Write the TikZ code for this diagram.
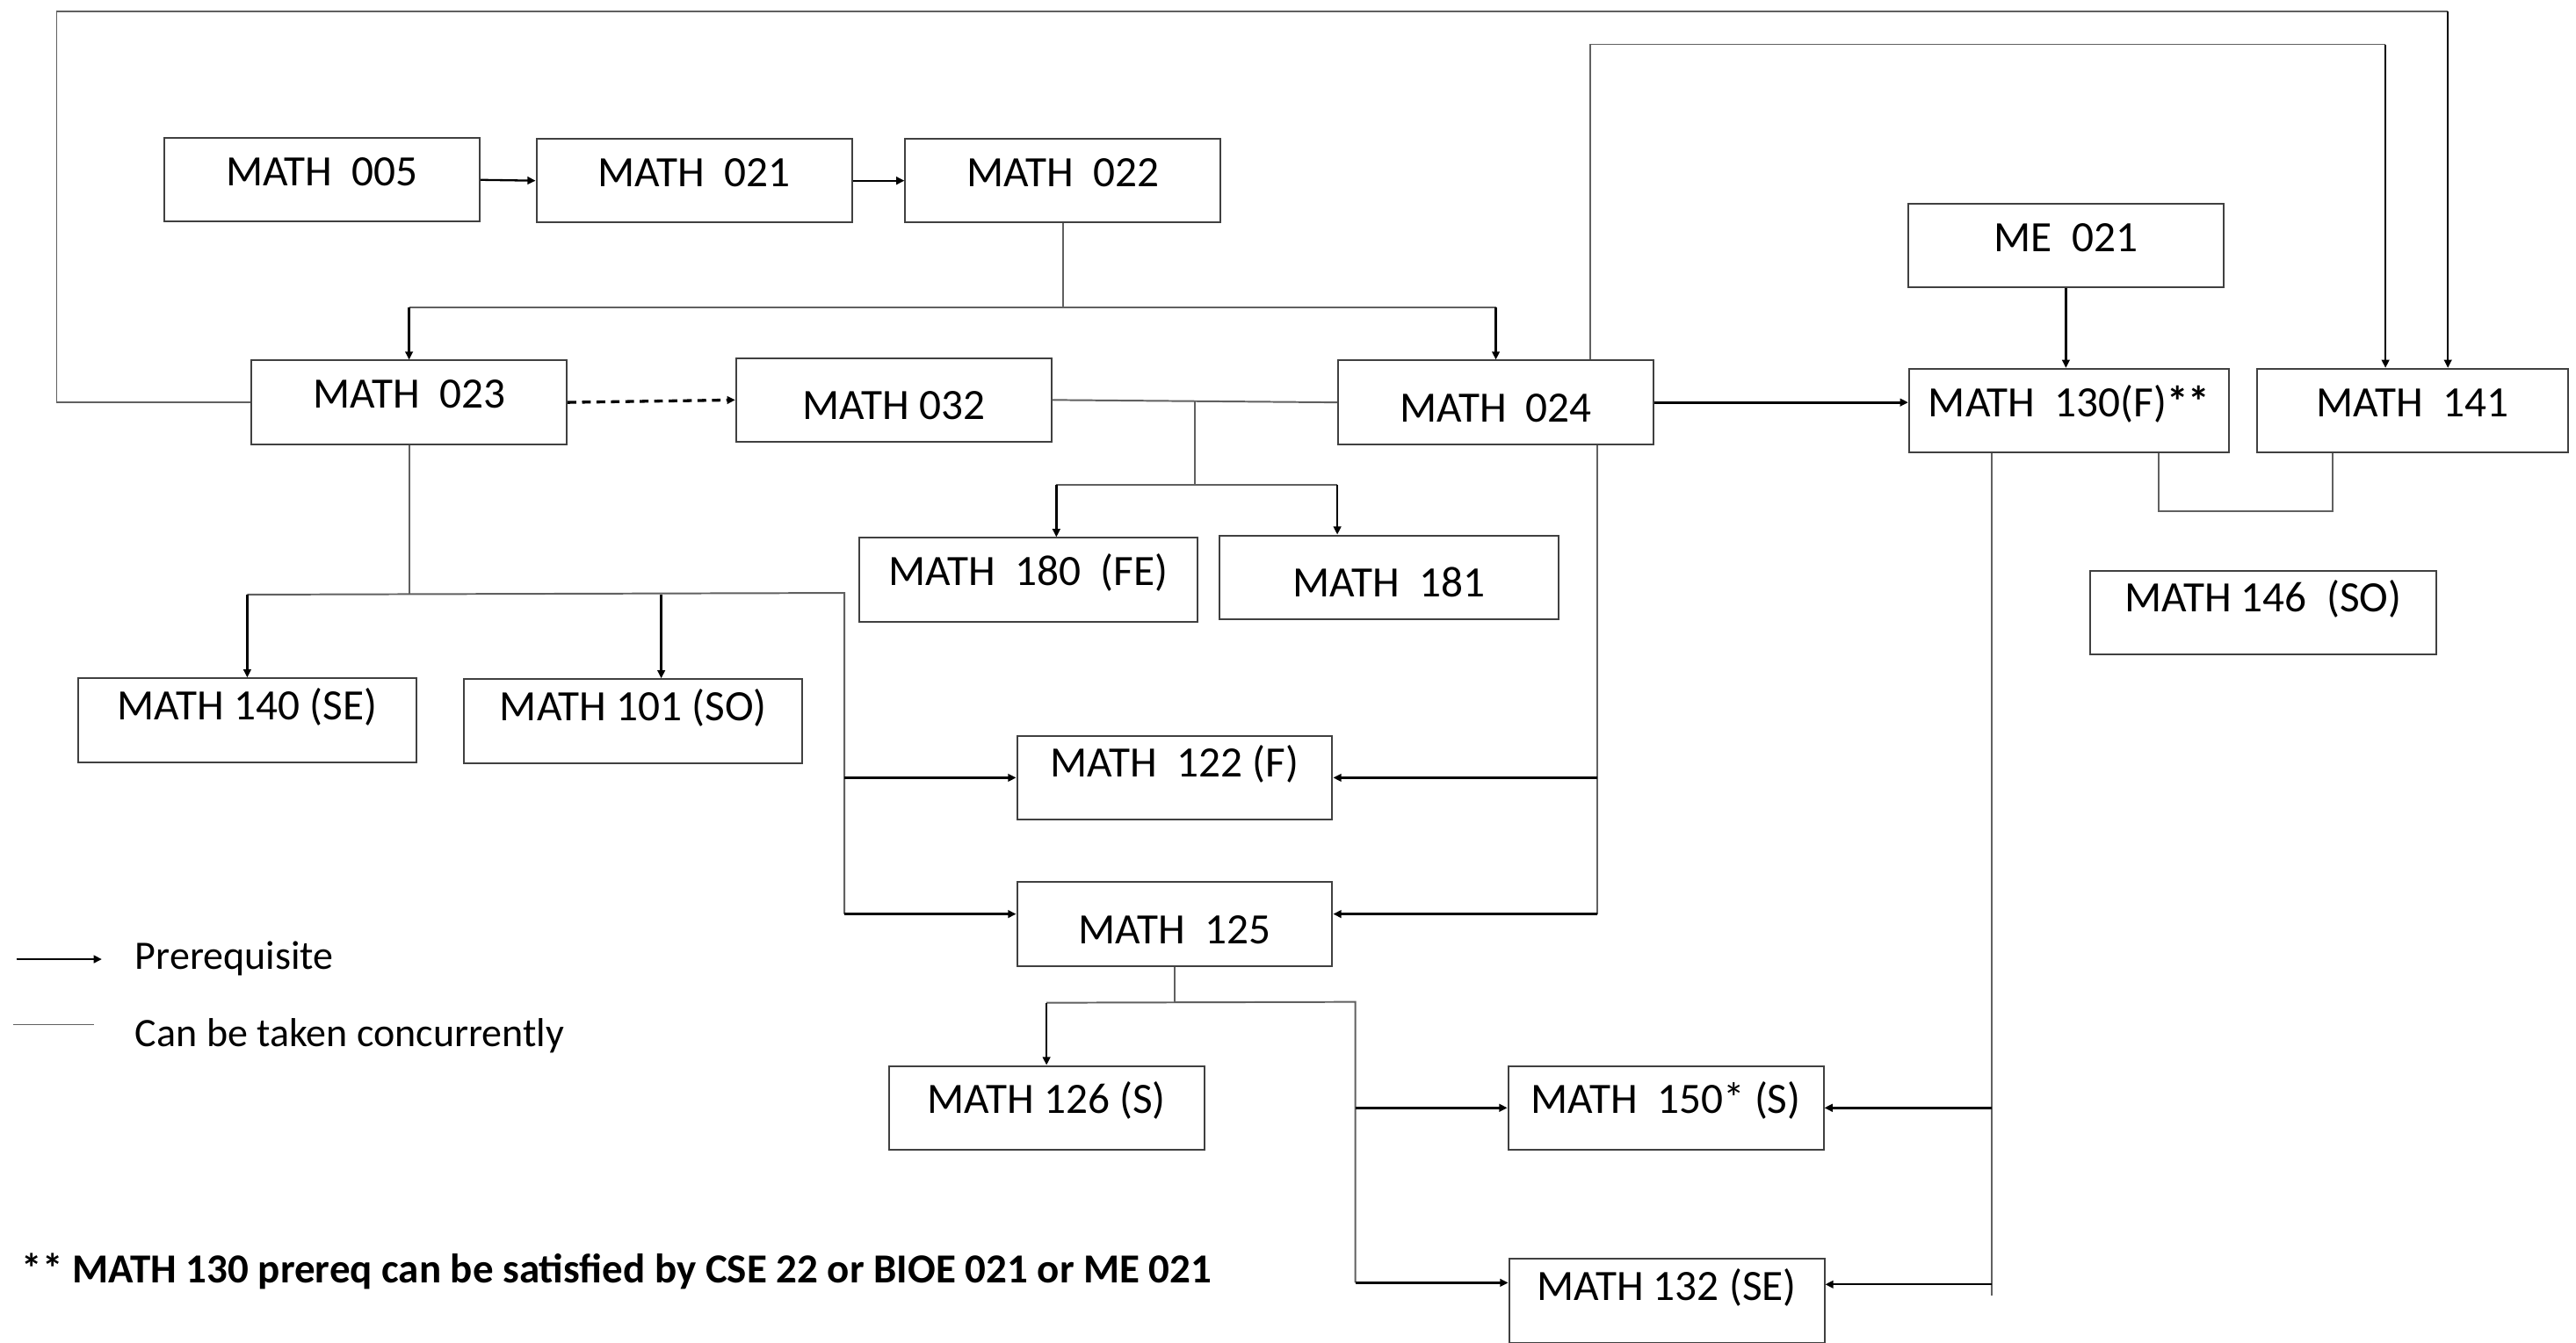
\documentclass[tikz,border=0pt]{standalone}
\usepackage{fontspec}
\setmainfont{Carlito}
\usetikzlibrary{arrows.meta, calc}
\definecolor{boxgray}{RGB}{64, 64, 64}
\definecolor{linegray}{RGB}{96, 96, 96}

\begin{document}
\begin{tikzpicture}[x=0.02cm, y=-0.02cm,
  crs/.style={draw=boxgray, line width=0.6pt, minimum width=3.84cm, minimum height=1.02cm, inner sep=1pt, font=\fontsize{15}{18}\selectfont, text height=10pt, text depth=6pt},
  wide/.style={minimum width=4.12cm},
  sitlow/.style={text height=14pt, text depth=0.3pt},
  sithigh/.style={text height=8pt, text depth=8.5pt},
  pre/.style={-{Triangle[length=2.8pt, width=2.6pt]}, line width=0.7pt},
  heavy/.style={line width=1pt},
  con/.style={draw=linegray, line width=0.6pt},
  legend/.style={font=\fontsize{14}{17}\selectfont, inner sep=0pt, anchor=base west}]

  \useasboundingbox (0,0) rectangle (1568,817.2);

  % course boxes
  \node[crs] (m005) at (196,109.5) {MATH\ \ 005};
  \node[crs] (m021) at (422.5,110) {MATH\ \ 021};
  \node[crs] (m022) at (647,110) {MATH\ \ 022};
  \node[crs] (me021) at (1257.5,149.5) {ME\ \ 021};

  \node[crs] (m023) at (249,245) {MATH\ \ 023};
  \node[crs, sitlow] (m032) at (544,243.5) {MATH 032};
  \node[crs, sitlow] (m024) at (910.5,245) {MATH\ \ 024};
  \node[crs, minimum width=3.9cm] (m130) at (1259.5,250) {MATH\ \ 130(F)\textbf{**}};
  \node[crs, minimum width=3.78cm] (m141) at (1468.5,250) {MATH\ \ 141};

  \node[crs, wide] (m180) at (626,353) {MATH\ \ 180\ \ (FE)};
  \node[crs, wide, sitlow] (m181) at (845.5,351.5) {MATH\ \ 181};
  \node[crs, sithigh, minimum width=4.22cm] (m146) at (1377.5,373) {MATH 146\ \ (SO)};
  \node[crs, wide, sithigh] (m140) at (150.5,438.5) {MATH 140 (SE)};
  \node[crs, wide, sithigh] (m101) at (385.5,439) {MATH 101 (SO)};

  \node[crs, sithigh] (m122) at (715,473.5) {MATH\ \ 122 (F)};
  \node[crs, sitlow] (m125) at (715,562.5) {MATH\ \ 125};
  \node[crs] (m126) at (637,674.5) {MATH 126 (S)};
  \node[crs] (m150) at (1014,674.5) {MATH\ \ 150* (S)};
  \node[crs, sithigh] (m132) at (1014.5,792) {MATH 132 (SE)};

  % legend and note
  \node[legend] (lpre) at (82,590) {Prerequisite};
  \node[legend] (lcon) at (82,637) {Can be taken concurrently};
  \node[legend, font=\bfseries\fontsize{14.3}{17}\selectfont] (note) at (13,781) {** MATH 130 prereq can be satisfied by CSE 22 or BIOE 021 or ME 021};
  \draw[pre] ($(lpre.base west)+(-72,-6)$) -- ($(lpre.base west)+(-20,-6)$);
  \draw[con, line width=0.3pt] ($(lcon.base west)+(-74,-13)$) -- ($(lcon.base west)+(-25,-13)$);

  % helper points on the boxes
  \coordinate (top1) at (1490,7);
  \coordinate (top2) at (1452,27);
  \coordinate (a180) at ($(m180.north)+(17,0)$);
  \coordinate (a181) at ($(m181.north)+(-31.5,0)$);
  \coordinate (a101) at ($(m101.north)+(17,0)$);
  \coordinate (b024) at ($(m024.north)+(57.5,0)$);
  \coordinate (c024) at ($(m024.south)+(61.5,0)$);
  \coordinate (c130) at ($(m130.south)+(-47,0)$);
  \coordinate (d130) at ($(m130.south)+(54.5,0)$);
  \coordinate (d141) at ($(m141.south)+(-48.5,0)$);
  \coordinate (w125) at ($(m125.west)+(0,-6)$);
  \coordinate (e125) at ($(m125.east)+(0,-6)$);
  \coordinate (w132) at ($(m132.west)+(0,-11)$);
  \coordinate (e132) at ($(m132.east)+(0,-10)$);

  % first row
  \draw[pre] (m005.east) -- (m021.west);
  \draw[pre] (m021.east) -- (m022.west);
  \draw[con] (m022.south) -- ++(0,51) coordinate (j22);
  \draw[con] (m023.north |- j22) -- (m024.north |- j22);
  \draw[pre] (m023.north |- j22) -- (m023.north);
  \draw[pre] (m024.north |- j22) -- (m024.north);

  % long loops to MATH 141
  \draw[con] (m023.west) -- ++(-118,0) |- (top1);
  \draw[pre] (top1) -- (top1 |- m141.north);
  \draw[con] (b024) |- (top2);
  \draw[pre] (top2) -- (top2 |- m141.north);

  % second row
  \draw[pre, heavy, dash pattern=on 3pt off 2pt] (m023.east) -- (m032.west);
  \draw[con] (m032.east) -- (m024.west);
  \draw[pre, heavy] (m024.east) -- (m024.east -| m130.west);
  \draw[pre] (me021.south) -- (me021.south |- m130.north);
  \draw[con] (d130) -- ++(0,35) -| (d141);

  \coordinate (j32) at ($(m032.east)!0.5!(m024.west)$);
  \draw[con] (j32) -- ++(0,51) coordinate (k32);
  \draw[con] (a180 |- k32) -- (a181 |- k32);
  \draw[pre] (a180 |- k32) -- (a180);
  \draw[pre] (a181 |- k32) -- (a181);

  % below MATH 023
  \draw[con] (m023.south) -- ++(0,91) coordinate (j23);
  \coordinate (v23) at (514,361);
  \draw[con] (m140.north |- j23) -- (v23) -- (v23 |- w125);
  \draw[pre] (m140.north |- j23) -- (m140.north);
  \draw[pre] (a101 |- j23) -- (a101);
  \draw[pre, heavy] (v23 |- m122.west) -- (m122.west);
  \draw[pre, heavy] (v23 |- w125) -- (w125);

  % below MATH 024
  \draw[con] (c024) -- (c024 |- e125);
  \draw[pre, heavy] (c024 |- m122.east) -- (m122.east);
  \draw[pre, heavy] (c024 |- e125) -- (e125);

  % below MATH 125
  \draw[con] (m125.south) -- ++(0,22) coordinate (j125);
  \coordinate (v125) at (825,610);
  \draw[con] (m126.north |- j125) -- (v125) -- (v125 |- w132);
  \draw[pre] (m126.north |- j125) -- (m126.north);
  \draw[pre, heavy] (v125 |- m150.west) -- (m150.west);
  \draw[pre, heavy] (v125 |- w132) -- (w132);

  % below MATH 130
  \draw[con] (c130) -- ++(0,513);
  \draw[pre, heavy] (c130 |- m150.east) -- (m150.east);
  \draw[pre] (c130 |- e132) -- (e132);
\end{tikzpicture}
\end{document}
